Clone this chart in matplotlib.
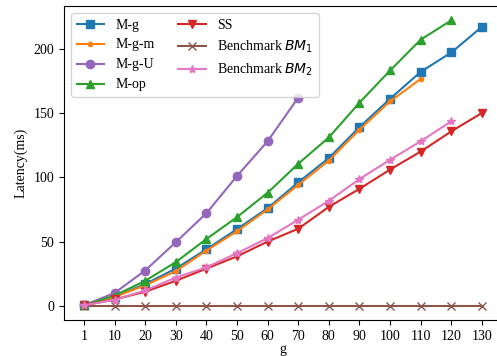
import matplotlib.pyplot as plt
import numpy as np

plt.rcParams["font.family"] = ["Liberation Serif", "DejaVu Serif"]
plt.rcParams["font.size"] = 10

g_labels = ["1", "10", "20", "30", "40", "50", "60", "70", "80", "90", "100", "110", "120", "130"]

mg = [0.5, 7, 17, 29, 44, 59.7, 76, 96, 115, 139, 161, 182, 197, 217]
mgm = [0.5, 7, 16, 27, 43, 58, 75, 94, 113, 137, 159, 176.5]
mgu = [0.5, 10, 27.5, 49.5, 72, 101, 128, 162]
mop = [0.5, 8, 19.5, 34, 52, 69, 88, 110.5, 131, 158, 183, 207, 222]
ss = [0.5, 5, 11, 19.5, 29, 38.5, 50, 60, 77, 91, 106, 120, 135.7, 150]
bm1 = [0.1] * 14
bm2 = [0.5, 4.7, 12, 22, 30, 41, 52.7, 67, 81.7, 98.6, 113.6, 128, 143.5]

series = [
    ("M-g", mg, "s", "tab:blue"),
    ("M-g-m", mgm, ".", "tab:orange"),
    ("M-g-U", mgu, "o", "tab:purple"),
    ("M-op", mop, "^", "tab:green"),
    ("SS", ss, "v", "tab:red"),
    ("Benchmark $BM_1$", bm1, "x", "tab:brown"),
    ("Benchmark $BM_2$", bm2, "*", "tab:pink"),
]

fig = plt.figure(figsize=(4.97, 3.56), dpi=100)
ax = fig.add_axes([0.1288, 0.101, 0.881, 0.882])

for name, vals, marker, color in series:
    x = np.arange(len(vals))
    ax.plot(x, vals, marker=marker, markersize=6, linewidth=1.5,
            color=color, label=name)

ax.set_xticks(np.arange(len(g_labels)))
ax.set_xticklabels(g_labels)
ax.set_xlabel("g", labelpad=0)
ax.set_ylabel("Latency(ms)")
ax.legend(loc="upper left", ncol=2, columnspacing=1.7)

fig.savefig("out.png", dpi=100)
